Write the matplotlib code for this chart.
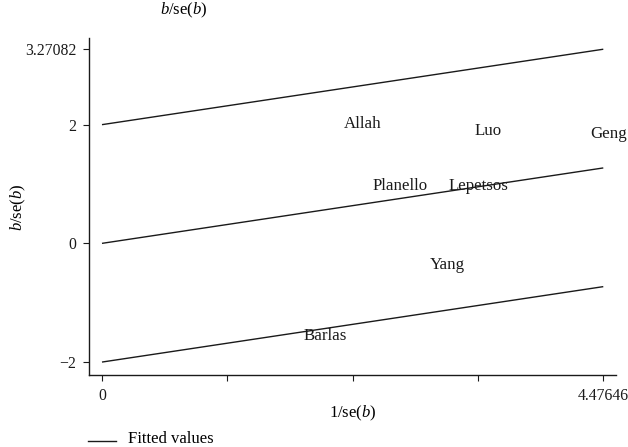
import matplotlib
matplotlib.use("Agg")
import matplotlib.pyplot as plt
import numpy as np

plt.rcParams['font.family'] = ['Liberation Serif', 'DejaVu Serif']
plt.rcParams['mathtext.fontset'] = 'custom'
plt.rcParams['mathtext.rm'] = 'Liberation Serif'
plt.rcParams['mathtext.it'] = 'Liberation Serif:italic'

# Data
studies = ["Allah", "Luo", "Geng", "Planello", "Lepetsos", "Yang", "Barlas"]
precision = [2.33, 3.45, 4.52, 2.66, 3.36, 3.08, 1.99]   # 1/se(b)
zscore = [2.01, 1.89, 1.84, 0.96, 0.96, -0.37, -1.56]     # b/se(b)
x_max = 4.47646
y_max = 3.27082
slope = (y_max - 2) / x_max
x_ticks = [0, x_max / 4, x_max / 2, 3 * x_max / 4, x_max]
x_ticklabels = ["0", "", "", "", "4.47646"]
y_ticks = [-2, 0, 2, y_max]
y_ticklabels = ["\u22122", "0", "2", "3.27082"]

W, H = 628, 447
fig = plt.figure(figsize=(W / 100, H / 100), dpi=100)
ax_l, ax_r, ax_t, ax_b = 89, 616, 38, 375
ax = fig.add_axes([ax_l / W, (H - ax_b) / H, (ax_r - ax_l) / W, (ax_b - ax_t) / H])

xs = np.array([0, x_max])
for off in (2, 0, -2):
    ax.plot(xs, slope * xs + off, color='#1a1a1a', lw=1.0, solid_capstyle='butt')

for s, x, y in zip(studies, precision, zscore):
    ax.text(x, y, s, ha='center', va='center', fontsize=12.2, color='#1a1a1a')

ax.set_xlim(-0.116, 4.59)
ax.set_ylim(-2.218, 3.46)
ax.set_xticks(x_ticks)
ax.set_xticklabels(x_ticklabels)
ax.set_yticks(y_ticks)
ax.set_yticklabels(y_ticklabels)
ax.tick_params(direction='out', length=4, width=0.8, labelsize=11.3, colors='#1a1a1a', pad=5)
for sp in ('top', 'right'):
    ax.spines[sp].set_visible(False)
for sp in ('left', 'bottom'):
    ax.spines[sp].set_linewidth(1.0)
    ax.spines[sp].set_color('#1a1a1a')

ax.set_xlabel(r"$1\mathrm{/se(}b\mathrm{)}$", fontsize=12)
ax.set_ylabel(r"$b\mathrm{/se(}b\mathrm{)}$", fontsize=12)
ax.xaxis.set_label_coords((353 - ax_l) / (ax_r - ax_l), (ax_b - 413) / (ax_b - ax_t))
ax.yaxis.set_label_coords((18 - ax_l) / (ax_r - ax_l), (ax_b - 207) / (ax_b - ax_t))
ax.xaxis.label.set_va('center')
ax.yaxis.label.set_va('center')
fig.text(184 / W, 1 - 10 / H, r"$b\mathrm{/se(}b\mathrm{)}$", ha='center', va='center', fontsize=12)

# legend
fig.add_artist(plt.Line2D([88 / W, 116 / W], [1 - 441 / H, 1 - 441 / H], color='#1a1a1a', lw=1.0))
fig.text(128 / W, 1 - 439 / H, "Fitted values", ha='left', va='center', fontsize=12)

fig.savefig("out.png", dpi=100)
